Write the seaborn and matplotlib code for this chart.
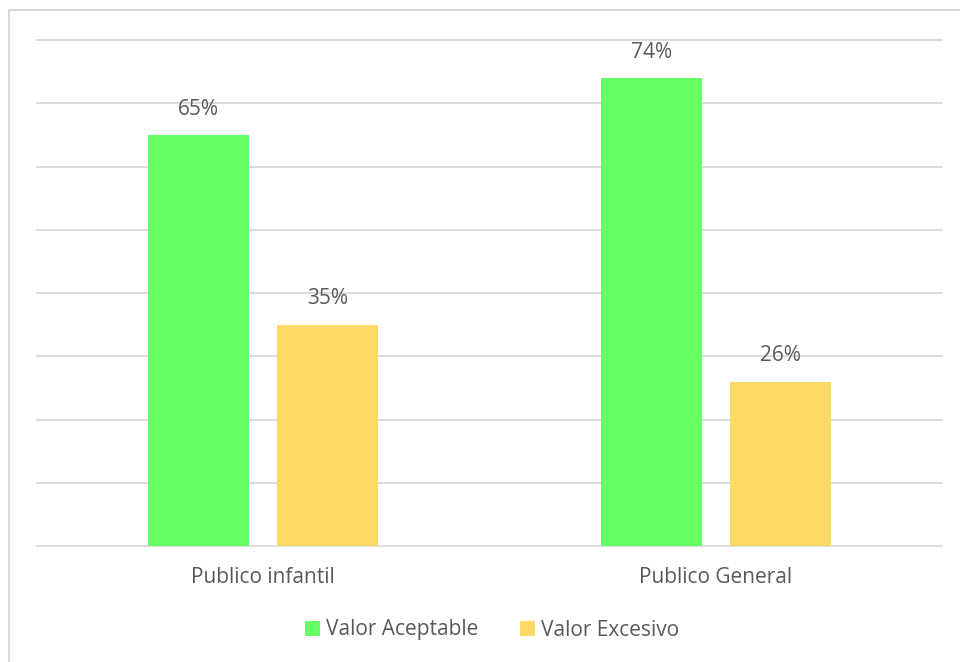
import matplotlib
matplotlib.use("Agg")
import matplotlib.pyplot as plt
import seaborn as sns
import pandas as pd
from matplotlib.patches import Rectangle, Patch

categories = ["Publico infantil", "Publico General"]
series = ["Valor Aceptable", "Valor Excesivo"]
aceptable = [0.65, 0.74]
excesivo = [0.35, 0.26]

colors = ["#66FF66", "#FFD966"]
text_color = "#595959"
grid_color = "#D9D9D9"

df = pd.DataFrame({
    "categoria": categories * 2,
    "serie": [series[0]] * 2 + [series[1]] * 2,
    "valor": aceptable + excesivo,
})

sns.set_theme(style="white")
plt.rcParams["font.family"] = ["Open Sans", "DejaVu Sans"]

fig = plt.figure(figsize=(9.6, 6.62), dpi=100)
ax = fig.add_axes([37 / 960, 1 - 546 / 662, 905 / 960, 506 / 662])

sns.barplot(data=df, x="categoria", y="valor", hue="serie", order=categories,
            hue_order=series, palette=colors, width=0.57, gap=0.218,
            saturation=1, linewidth=0, edgecolor="none",
            ax=ax, legend=False, zorder=3)

ax.set_xlim(-0.5, 1.5)
ax.set_ylim(0, 0.8)
ax.set_yticks([i / 10 for i in range(9)])
ax.yaxis.grid(True, color=grid_color, linewidth=1.3, zorder=0)
for gl in ax.get_ygridlines():
    gl.set_clip_on(False)
ax.set_yticklabels([])
ax.tick_params(axis="y", length=0)
ax.tick_params(axis="x", length=0, pad=15, labelsize=15, labelcolor=text_color)
ax.set_xlabel("")
ax.set_ylabel("")
for s in ax.spines.values():
    s.set_visible(False)

for cont in ax.containers:
    ax.bar_label(cont, labels=[f"{v * 100:.0f}%" for v in cont.datavalues],
                 padding=11, fontsize=15, color=text_color)

handles = [Patch(facecolor=c, edgecolor="none") for c in colors]
fig.legend(handles, series, loc="center", bbox_to_anchor=(492 / 960, 1 - 630 / 662),
           ncol=2, frameon=False, fontsize=15, labelcolor=text_color,
           handlelength=0.7, handleheight=0.7, handletextpad=0.3,
           columnspacing=2.0)

# outer chart frame
fig.patches.append(Rectangle((8.5 / 960, -0.1), 1.2, 1 - 9.5 / 662 + 0.1,
                             transform=fig.transFigure, fill=False,
                             edgecolor=grid_color, linewidth=1.5))

fig.savefig("out.png", dpi=100)
